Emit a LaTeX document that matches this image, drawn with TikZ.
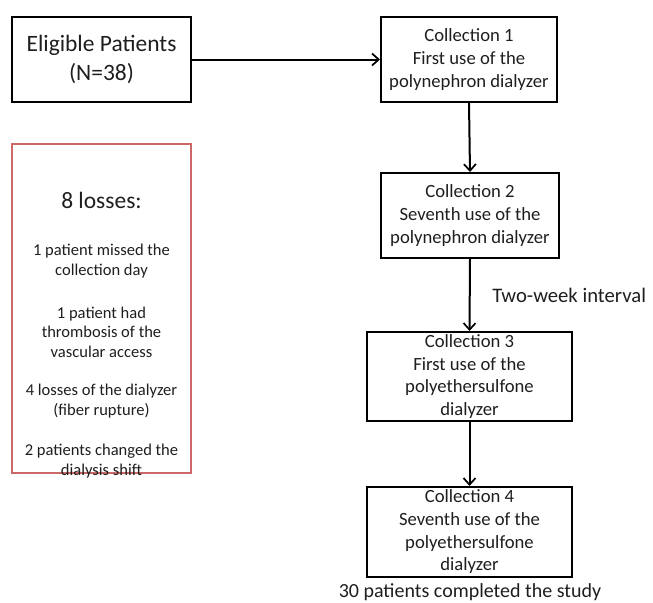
\documentclass[tikz,border=0pt]{standalone}
\usepackage{fontspec}
\setmainfont{Carlito}
\usetikzlibrary{arrows.meta}
\definecolor{lossred}{RGB}{204,104,104}
\definecolor{inkgrey}{RGB}{30,30,30}
\begin{document}
\begin{tikzpicture}
                                [
                                    x=0.75pt, y=-0.75pt,
                                    every node/.style = {text=inkgrey},
                                    stepbox/.style = {draw=black, shape=rectangle, line width=1.5pt, align=center, inner xsep=2pt, inner ysep=0pt, font=\fontsize{14}{17}\selectfont},
                                    bigbox/.style = {stepbox, font=\fontsize{17.6}{21.75}\selectfont},
                                    lossbox/.style = {draw=lossred, shape=rectangle, line width=1.1pt, minimum width=134.25pt, minimum height=246.75pt},
                                    losstext/.style = {align=center, inner sep=0pt, font=\fontsize{12.4}{14.5}\selectfont},
                                    flow/.style = {line width=1.5pt, -{Straight Barb[length=5pt,width=9pt,line width=1.3pt]}},
                                ]
                                \useasboundingbox (0,0) rectangle (653,603);

                                \node[bigbox, minimum width=134.25pt, minimum height=63.75pt] (elig) at (101.5,59.5) {Eligible Patients\\(N=38)};

                                \node[stepbox, minimum width=132pt, minimum height=63.75pt] (coll1) at (469,59.5) {Collection 1\\First use of the\\polynephron dialyzer};
                                \node[stepbox, minimum width=133.5pt, minimum height=63.75pt] (coll2) at (470,215.5) {Collection 2\\Seventh use of the\\polynephron dialyzer};
                                \node[stepbox, minimum width=153.75pt, minimum height=66.75pt] (coll3) at (469.5,376.5) {Collection 3\\First use of the\\polyethersulfone\\dialyzer};
                                \node[stepbox, minimum width=153.75pt, minimum height=67.5pt] (coll4) at (469.5,532) {Collection 4\\Seventh use of the\\polyethersulfone\\dialyzer};

                                \node[anchor=west, inner sep=0pt, font=\fontsize{15.5}{18}\selectfont] (interval) at (492,295) {Two-week interval};
                                \node[inner sep=0pt, font=\fontsize{15}{18}\selectfont] (done) at (470,592) {30 patients completed the study};

                                % losses
                                \node[lossbox] (losses) at (101.5,308.5) {};
                                \node[inner sep=0pt, font=\fontsize{17.6}{21.75}\selectfont] (losstitle) at (101.5,200) {8 losses:};
                                \node[losstext] (loss1) at (101.5,261) {1 patient missed the\\collection day};
                                \node[losstext] (loss2) at (101.5,332) {1 patient had\\thrombosis of the\\vascular access};
                                \node[losstext] (loss3) at (101.5,401) {4 losses of the dialyzer\\(fiber rupture)};
                                \node[losstext] (loss4) at (101.5,461) {2 patients changed the\\dialysis shift};

                                \draw [flow] (elig.east) -- (coll1.west);
                                \draw [flow] (coll1.south) -- (coll2.north);
                                \draw [flow] (coll2.south) -- (coll3.north);
                                \draw [flow] (coll3.south) -- (coll4.north);

                            \end{tikzpicture}
\end{document}
